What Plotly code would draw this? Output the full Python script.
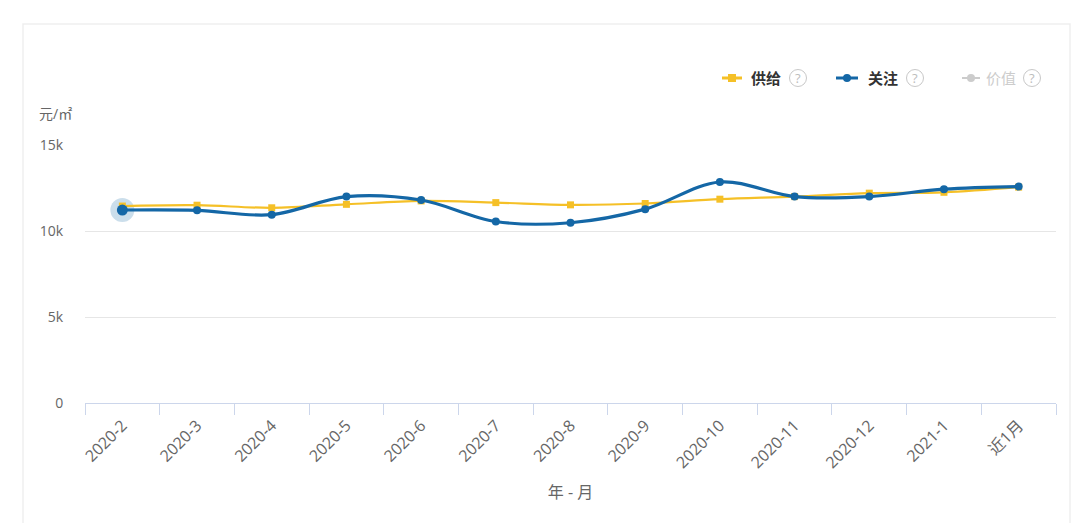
import plotly.graph_objects as go

months = ["2020-2", "2020-3", "2020-4", "2020-5", "2020-6", "2020-7", "2020-8",
          "2020-9", "2020-10", "2020-11", "2020-12", "2021-1", "近1月"]
supply = [11450, 11500, 11350, 11550, 11750, 11650, 11520, 11600, 11850, 12000, 12200, 12250, 12550]
attention = [11220, 11200, 10950, 12000, 11800, 10550, 10480, 11270, 12850, 12000, 12000, 12430, 12580]
y_tickvals = [0, 5000, 10000, 15000]
y_ticktext = ["0", "5k", "10k", "15k"]

YELLOW = "#f5c027"
BLUE = "#1467a6"
FONT = "Open Sans, Noto Sans CJK SC, sans-serif"

W, H = 1080, 523
L, R, T, B = 85, 24, 145, 120
PW, PH = W - L - R, H - T - B


def px(x):
    return (x - L) / PW


def py(y):
    return (H - B - y) / PH


fig = go.Figure()

# hover-style halo on first point
fig.add_trace(go.Scatter(
    x=months[:1], y=attention[:1], mode="markers",
    marker=dict(size=24, color="rgba(20,103,166,0.22)", line=dict(width=0)),
    hoverinfo="skip", showlegend=False))

fig.add_trace(go.Scatter(
    x=months, y=supply, name="供给", mode="lines+markers",
    line=dict(color=YELLOW, width=2.2, shape="spline", smoothing=1),
    marker=dict(symbol="square", size=7, color=YELLOW),
    showlegend=False))

fig.add_trace(go.Scatter(
    x=months, y=attention, name="关注", mode="lines+markers",
    line=dict(color=BLUE, width=3.2, shape="spline", smoothing=1),
    marker=dict(symbol="circle", size=8, color=BLUE),
    showlegend=False))

# first point marker a bit bigger (hover state)
fig.add_trace(go.Scatter(
    x=months[:1], y=attention[:1], mode="markers",
    marker=dict(size=11, color=BLUE),
    hoverinfo="skip", showlegend=False))

shapes = []
annotations = []

# faint card frame
shapes.append(dict(type="rect", xref="paper", yref="paper",
                   x0=px(23), x1=px(1070), y0=py(540), y1=py(24),
                   line=dict(color="#efefef", width=1.5), fillcolor="rgba(0,0,0,0)", layer="below"))

# manual legend
legend_items = [
    ("供给", YELLOW, "square", 722, 742, 749, 798, "#333333"),
    ("关注", BLUE, "circle", 836, 858, 866, 915, "#333333"),
    ("价值", "#cccccc", "circle", 962, 980, 984, 1032, "#cccccc"),
]
ly = 78
for name, col, sym, lx0, lx1, tx, qx, tcol in legend_items:
    shapes.append(dict(type="line", xref="paper", yref="paper",
                       x0=px(lx0), x1=px(lx1), y0=py(ly), y1=py(ly),
                       line=dict(color=col, width=3 if col != "#cccccc" else 2)))
    cx = (lx0 + lx1) / 2
    r = 4
    shapes.append(dict(type="rect" if sym == "square" else "circle", xref="paper", yref="paper",
                       x0=px(cx - r), x1=px(cx + r), y0=py(ly + r), y1=py(ly - r),
                       fillcolor=col, line=dict(color=col, width=0)))
    annotations.append(dict(xref="paper", yref="paper", x=px(tx), y=py(ly),
                            xanchor="left", yanchor="middle", showarrow=False,
                            text="<b>%s</b>" % name if tcol != "#cccccc" else name,
                            font=dict(family=FONT, size=15, color=tcol)))
    shapes.append(dict(type="circle", xref="paper", yref="paper",
                       x0=px(qx - 8.5), x1=px(qx + 8.5), y0=py(ly + 8.5), y1=py(ly - 8.5),
                       line=dict(color="#c8c8c8", width=1), fillcolor="rgba(0,0,0,0)"))
    annotations.append(dict(xref="paper", yref="paper", x=px(qx), y=py(ly),
                            xanchor="center", yanchor="middle", showarrow=False,
                            text="?", font=dict(family=FONT, size=13, color="#bdbdbd")))

# y unit
annotations.append(dict(xref="paper", yref="paper", x=px(37), y=py(113),
                        xanchor="left", yanchor="middle", showarrow=False,
                        text="元/㎡", font=dict(family=FONT, size=14, color="#666666")))

fig.update_layout(
    width=W, height=H,
    margin=dict(l=L, r=R, t=T, b=B),
    paper_bgcolor="white", plot_bgcolor="white",
    font=dict(family=FONT, color="#666666"),
    shapes=shapes, annotations=annotations,
    xaxis=dict(
        type="category", range=[-0.5, len(months) - 0.5],
        tickson="boundaries", ticks="outside", ticklen=11, tickcolor="#ccd6eb", tickwidth=1,
        showline=True, linecolor="#ccd6eb", linewidth=1,
        showgrid=False, tickangle=-45,
        ticklabelstandoff=6,
        tickfont=dict(family=FONT, size=16, color="#666666"),
        title=dict(text="年 - 月", font=dict(family=FONT, size=16, color="#666666"), standoff=14),
        fixedrange=True,
    ),
    yaxis=dict(
        range=[0, 15000], tickvals=y_tickvals, ticktext=y_ticktext,
        showgrid=True, gridcolor="#e6e6e6", gridwidth=1,
        zeroline=False, showline=False,
        ticks="outside", ticklen=18, tickcolor="rgba(0,0,0,0)",
        tickfont=dict(family=FONT, size=14, color="#666666"),
        fixedrange=True,
    ),
)

fig.write_html("out.html")
